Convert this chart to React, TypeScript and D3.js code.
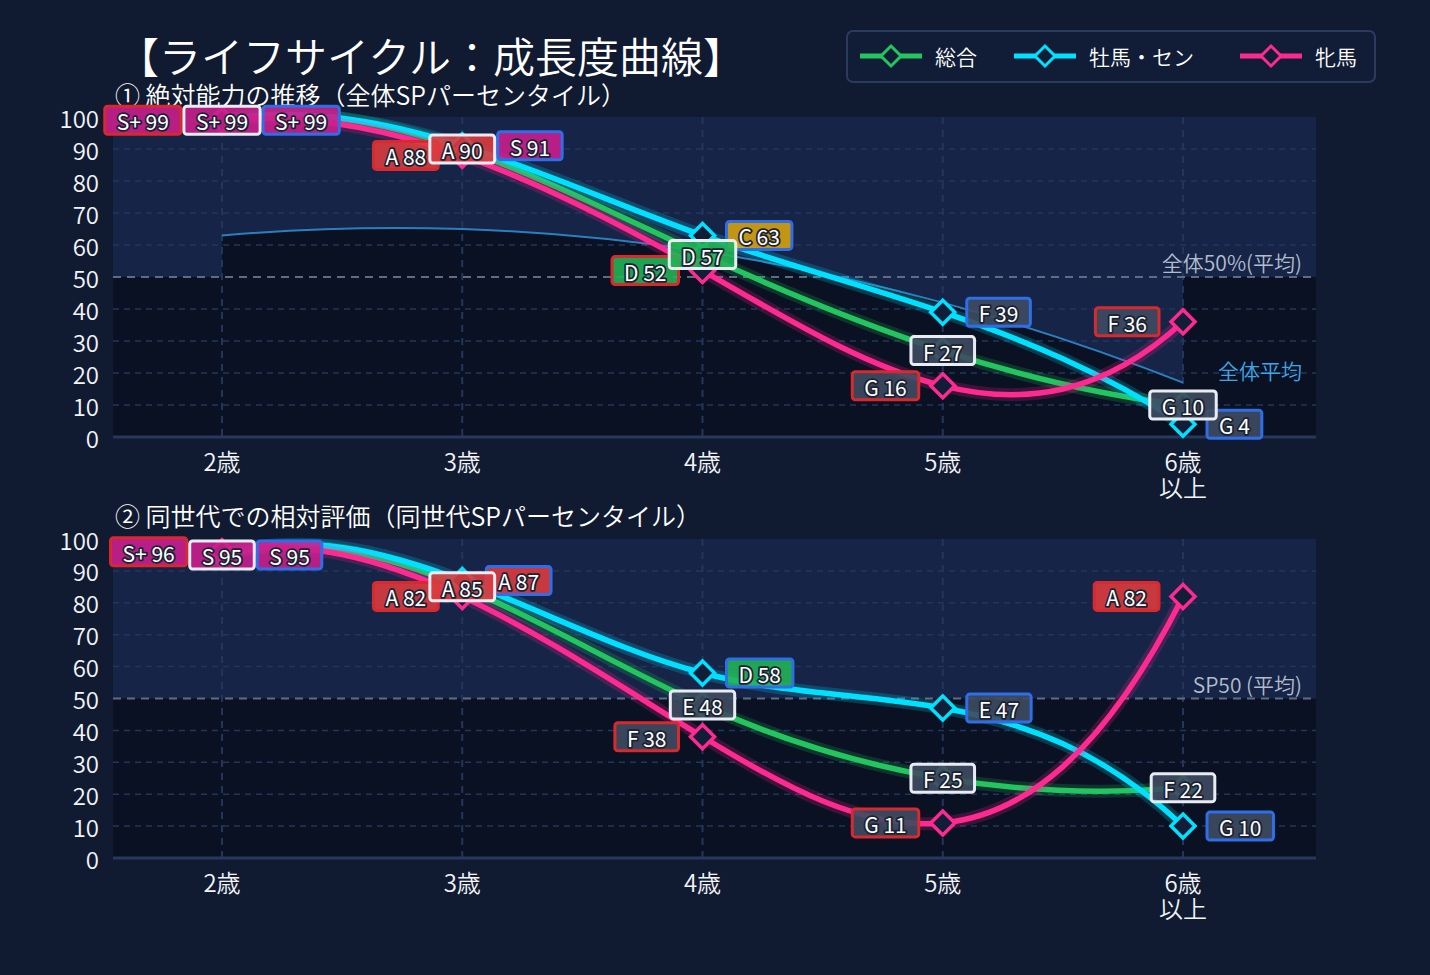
import * as d3 from "d3";
import React, { useEffect, useRef } from "react";

const ages = ["2歳", "3歳", "4歳", "5歳", "6歳\n以上"];
const seriesNames = ["総合", "牡馬・セン", "牝馬"];

// ① 絶対能力の推移（全体SPパーセンタイル）
const absTotal = [99, 90, 57, 27, 10];
const absColt = [99, 91, 63, 39, 4];
const absFilly = [99, 88, 52, 16, 36];
const absAverage = [63, 65, 58, 42, 17];

// ② 同世代での相対評価（同世代SPパーセンタイル）
const relTotal = [95, 85, 48, 25, 22];
const relColt = [95, 87, 58, 47, 10];
const relFilly = [96, 82, 38, 11, 82];

const yTicks = [0, 10, 20, 30, 40, 50, 60, 70, 80, 90, 100];

const FONT = "'Noto Sans CJK JP', 'Noto Sans', sans-serif";
const W = 1430;
const H = 975;
const plotLeft = 113;
const plotRight = 1316;

const lineColors = ["#22c55e", "#00e1ff", "#ff2a90"];
const borderColors = ["#e9edf3", "#2f6ee6", "#d8292f"];

const gradeOf = (v: number) =>
  v >= 96 ? "S+" : v >= 91 ? "S" : v >= 80 ? "A" : v >= 70 ? "B" : v >= 60 ? "C" : v >= 50 ? "D" : v >= 40 ? "E" : v >= 20 ? "F" : "G";

const gradeFill: Record<string, string> = {
  "S+": "#c91f8d",
  S: "#c91f8d",
  A: "#db3c3e",
  B: "#e07a2a",
  C: "#d6a20f",
  D: "#22b457",
  E: "#3e4b60",
  F: "#3e4b60",
  G: "#3e4b60",
};

// cubic spline, not-a-knot ends (evenly spaced points)
function secondDerivs(v: number[]) {
  const n = v.length;
  const A = Array.from({ length: n }, () => new Array(n).fill(0));
  const b = new Array(n).fill(0);
  A[0][0] = 1; A[0][1] = -2; A[0][2] = 1;
  for (let i = 1; i < n - 1; i++) {
    A[i][i - 1] = 1; A[i][i] = 4; A[i][i + 1] = 1;
    b[i] = 6 * (v[i + 1] - 2 * v[i] + v[i - 1]);
  }
  A[n - 1][n - 3] = 1; A[n - 1][n - 2] = -2; A[n - 1][n - 1] = 1;
  for (let c = 0; c < n; c++) {
    let p = c;
    for (let r = c + 1; r < n; r++) if (Math.abs(A[r][c]) > Math.abs(A[p][c])) p = r;
    [A[c], A[p]] = [A[p], A[c]];
    [b[c], b[p]] = [b[p], b[c]];
    for (let r = c + 1; r < n; r++) {
      const f = A[r][c] / A[c][c];
      for (let k = c; k < n; k++) A[r][k] -= f * A[c][k];
      b[r] -= f * b[c];
    }
  }
  const m = new Array(n).fill(0);
  for (let r = n - 1; r >= 0; r--) {
    let s = b[r];
    for (let k = r + 1; k < n; k++) s -= A[r][k] * m[k];
    m[r] = s / A[r][r];
  }
  return m;
}

class NotAKnot {
  _context: any;
  _line: number = NaN;
  _x: number[] = [];
  _y: number[] = [];
  constructor(context: any) {
    this._context = context;
  }
  areaStart() { this._line = 0; }
  areaEnd() { this._line = NaN; }
  lineStart() { this._x = []; this._y = []; }
  point(x: number, y: number) { this._x.push(+x); this._y.push(+y); }
  lineEnd() {
    const x = this._x, y = this._y, n = x.length, ctx = this._context;
    if (n) {
      this._line ? ctx.lineTo(x[0], y[0]) : ctx.moveTo(x[0], y[0]);
      if (n < 4) {
        for (let i = 1; i < n; i++) ctx.lineTo(x[i], y[i]);
      } else {
        const m = secondDerivs(y);
        for (let i = 0; i < n - 1; i++) {
          const dy = y[i + 1] - y[i];
          const d0 = dy - (2 * m[i] + m[i + 1]) / 6;
          const d1 = dy + (m[i] + 2 * m[i + 1]) / 6;
          const dx = x[i + 1] - x[i];
          ctx.bezierCurveTo(x[i] + dx / 3, y[i] + d0 / 3, x[i + 1] - dx / 3, y[i + 1] - d1 / 3, x[i + 1], y[i + 1]);
        }
      }
    }
    if (this._line || (this._line !== 0 && n === 1)) ctx.closePath();
    this._line = 1 - this._line;
  }
}
const curveNotAKnot: any = (context: any) => new NotAKnot(context);

const diamond = (r: number) => `M0,${-r}L${r},0L0,${r}L${-r},0Z`;

const TEXT_W = 350;

const App = () => {
  const svgRef = useRef<SVGSVGElement>(null);

  useEffect(() => {
    document.body.style.margin = "0";
    document.body.style.background = "#101a31";

    const svg = d3.select(svgRef.current);
    svg.selectAll("*").remove();

    svg.append("rect").attr("width", W).attr("height", H).attr("fill", "#101a31");

    const measure = (text: string, size: number) => {
      const t = svg.append("text").attr("font-family", FONT).attr("font-size", size).text(text);
      const w = (t.node() as SVGTextElement).getComputedTextLength();
      t.remove();
      return w;
    };

    // Title
    svg.append("text")
      .attr("x", 117).attr("y", 54)
      .attr("font-family", FONT).attr("font-size", 42).attr("font-weight", TEXT_W)
      .attr("dominant-baseline", "central")
      .attr("fill", "#ffffff")
      .text("【ライフサイクル：成長度曲線】");

    // Legend
    const leg = svg.append("g");
    leg.append("rect")
      .attr("x", 847).attr("y", 31).attr("width", 528).attr("height", 51).attr("rx", 6)
      .attr("fill", "#111c37").attr("stroke", "#2b3b5e").attr("stroke-width", 2);
    const legX = [860, 1014, 1240];
    seriesNames.forEach((name, i) => {
      const lx = legX[i];
      leg.append("line").attr("x1", lx).attr("x2", lx + 62).attr("y1", 56).attr("y2", 56)
        .attr("stroke", lineColors[i]).attr("stroke-width", 5);
      leg.append("path").attr("d", diamond(10)).attr("transform", `translate(${lx + 31},56)`)
        .attr("fill", "#111c37").attr("stroke", lineColors[i]).attr("stroke-width", 3);
      leg.append("text").attr("x", lx + 75).attr("y", 56)
        .attr("font-family", FONT).attr("font-size", 21).attr("font-weight", TEXT_W)
        .attr("dominant-baseline", "central")
        .attr("fill", "#ffffff").text(name);
    });

    const x = d3.scaleLinear().domain([0, ages.length - 1]).range([222, 1183]);

    const panels = [
      {
        top: 117, bottom: 437, titleY: 94,
        title: "① 絶対能力の推移（全体SPパーセンタイル）",
        refLabel: "全体50%(平均)",
        series: [absTotal, absColt, absFilly],
        average: absAverage as number[] | null,
      },
      {
        top: 539, bottom: 858, titleY: 515,
        title: "② 同世代での相対評価（同世代SPパーセンタイル）",
        refLabel: "SP50 (平均)",
        series: [relTotal, relColt, relFilly],
        average: null as number[] | null,
      },
    ];

    panels.forEach((p) => {
      const g = svg.append("g");
      const y = d3.scaleLinear().domain([0, 100]).range([p.bottom, p.top]);

      g.append("text")
        .attr("x", 115).attr("y", p.titleY)
        .attr("font-family", FONT).attr("font-size", 25).attr("font-weight", TEXT_W)
        .attr("dominant-baseline", "central").attr("fill", "#ffffff")
        .text(p.title);

      // backgrounds
      const light = "#152447";
      g.append("rect").attr("x", plotLeft).attr("y", p.top)
        .attr("width", plotRight - plotLeft).attr("height", p.bottom - p.top).attr("fill", "#0a1122");
      if (p.average) {
        const avg = p.average;
        g.append("rect").attr("x", plotLeft).attr("y", p.top)
          .attr("width", x(0) - plotLeft).attr("height", y(50) - p.top).attr("fill", light);
        g.append("rect").attr("x", x(avg.length - 1)).attr("y", p.top)
          .attr("width", plotRight - x(avg.length - 1)).attr("height", y(50) - p.top).attr("fill", light);
        const area = d3.area<number>()
          .x((_, i) => x(i)).y0(y(100)).y1((d) => y(d)).curve(curveNotAKnot);
        g.append("path").attr("d", area(avg)).attr("fill", light);
      } else {
        g.append("rect").attr("x", plotLeft).attr("y", p.top)
          .attr("width", plotRight - plotLeft).attr("height", y(50) - p.top).attr("fill", light);
      }

      // grid
      yTicks.filter((t) => t !== 0 && t !== 50 && t !== 100).forEach((t) => {
        g.append("line").attr("x1", plotLeft).attr("x2", plotRight).attr("y1", y(t)).attr("y2", y(t))
          .attr("stroke", "#22365c").attr("stroke-width", 1.5).attr("stroke-dasharray", "6,5");
      });
      ages.forEach((_, i) => {
        g.append("line").attr("x1", x(i)).attr("x2", x(i)).attr("y1", p.top).attr("y2", p.bottom)
          .attr("stroke", "#22365c").attr("stroke-width", 2).attr("stroke-dasharray", "7,6");
      });
      g.append("line").attr("x1", plotLeft).attr("x2", plotRight).attr("y1", y(50)).attr("y2", y(50))
        .attr("stroke", "#5f6d84").attr("stroke-width", 2).attr("stroke-dasharray", "8,6");
      g.append("line").attr("x1", plotLeft).attr("x2", plotRight).attr("y1", y(0)).attr("y2", y(0))
        .attr("stroke", "#26385e").attr("stroke-width", 3);

      // y tick labels
      yTicks.forEach((t) => {
        g.append("text").attr("x", 99).attr("y", y(t))
          .attr("font-family", FONT).attr("font-size", 24).attr("font-weight", TEXT_W)
          .attr("text-anchor", "end")
          .attr("dominant-baseline", "central").attr("fill", "#f2f4f8").text(t);
      });

      // x tick labels
      ages.forEach((a, i) => {
        a.split("\n").forEach((s, k) => {
          g.append("text").attr("x", x(i)).attr("y", p.bottom + 23 + k * 26)
            .attr("font-family", FONT).attr("font-size", 24).attr("font-weight", TEXT_W)
            .attr("text-anchor", "middle")
            .attr("dominant-baseline", "central").attr("fill", "#f2f4f8").text(s);
        });
      });

      // reference label
      g.append("text").attr("x", 1302).attr("y", y(50) - 15)
        .attr("font-family", FONT).attr("font-size", 21).attr("font-weight", TEXT_W)
        .attr("text-anchor", "end")
        .attr("dominant-baseline", "central").attr("fill", "#b3bccb").text(p.refLabel);

      const line = d3.line<number>().x((_, i) => x(i)).y((d) => y(d)).curve(curveNotAKnot);

      if (p.average) {
        g.append("path").attr("d", line(p.average)).attr("fill", "none")
          .attr("stroke", "#2b7fbe").attr("stroke-width", 2);
        g.append("text").attr("x", 1302).attr("y", y(p.average[p.average.length - 1]) - 13)
          .attr("font-family", FONT).attr("font-size", 21).attr("font-weight", TEXT_W)
          .attr("text-anchor", "end")
          .attr("dominant-baseline", "central").attr("fill", "#3ea6e8").text("全体平均");
      }

      // lines
      p.series.forEach((s, si) => {
        g.append("path").attr("d", line(s)).attr("fill", "none")
          .attr("stroke", lineColors[si]).attr("stroke-width", 13).attr("stroke-opacity", 0.2)
          .attr("stroke-linecap", "round");
        g.append("path").attr("d", line(s)).attr("fill", "none")
          .attr("stroke", lineColors[si]).attr("stroke-width", 5.5).attr("stroke-linecap", "round");
      });

      // markers
      p.series.forEach((s, si) => {
        s.forEach((v, i) => {
          g.append("path").attr("d", diamond(12)).attr("transform", `translate(${x(i)},${y(v)})`)
            .attr("fill", "#121d38").attr("stroke", lineColors[si]).attr("stroke-width", 3.5);
        });
      });

      // labels
      const boxH = 28;
      const pad = 12;
      const addLabel = (left: number, cy: number, v: number, w: number, border: string) => {
        const gr = gradeOf(v);
        const lg = g.append("g");
        lg.append("rect").attr("x", left).attr("y", cy - boxH / 2).attr("width", w).attr("height", boxH)
          .attr("rx", 3).attr("fill", gradeFill[gr]).attr("fill-opacity", 0.9)
          .attr("stroke", border).attr("stroke-width", 3);
        lg.append("text").attr("x", left + w / 2).attr("y", cy + 1)
          .attr("font-family", FONT).attr("font-size", 21)
          .attr("text-anchor", "middle").attr("dominant-baseline", "central")
          .attr("fill", "#ffffff").attr("stroke", "#1a2233").attr("stroke-width", 3.5)
          .attr("paint-order", "stroke").attr("stroke-linejoin", "round")
          .text(`${gr} ${v}`);
      };

      const [total, colt, filly] = p.series;
      ages.forEach((_, i) => {
        const cx = x(i);
        const gy = y(total[i]);
        const gw = measure(`${gradeOf(total[i])} ${total[i]}`, 21) + pad * 2;
        const fy = y(filly[i]);
        const fw = measure(`${gradeOf(filly[i])} ${filly[i]}`, 21) + pad * 2;
        const fRight = Math.abs(fy - gy) < 5 ? cx - gw / 2 - 3 : cx - 24;
        const cyy = y(colt[i]);
        const cw = measure(`${gradeOf(colt[i])} ${colt[i]}`, 21) + pad * 2;
        const cLeft = Math.abs(cyy - gy) < 5 ? cx + gw / 2 + 3 : cx + 24;
        addLabel(fRight - fw, fy, filly[i], fw, borderColors[2]);
        addLabel(cLeft, cyy, colt[i], cw, borderColors[1]);
        addLabel(cx - gw / 2, gy, total[i], gw, borderColors[0]);
      });
    });
  }, []);

  return (
    <svg
      ref={svgRef}
      width={W}
      height={H}
      viewBox={`0 0 ${W} ${H}`}
      style={{ display: "block" }}
    />
  );
};

export default App;
